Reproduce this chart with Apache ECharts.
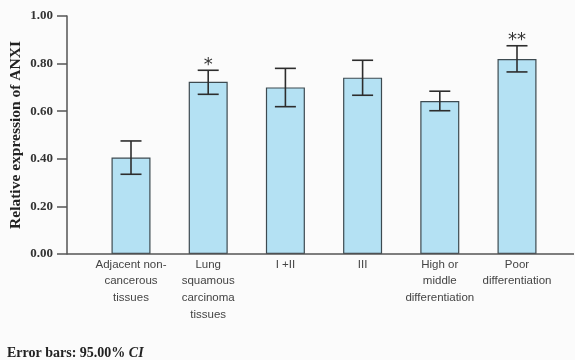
<!DOCTYPE html>
<html><head><meta charset="utf-8">
<script src="https://cdn.jsdelivr.net/npm/echarts@6/dist/echarts.min.js"></script>
<style>html,body{margin:0;padding:0;background:#fff}#c{width:575px;height:360px}</style>
</head><body><div id="c"></div>
<script>
var categories = ["Adjacent non-\ncancerous\ntissues", "Lung\nsquamous\ncarcinoma\ntissues", "I +II", "III", "High or\nmiddle\ndifferentiation", "Poor\ndifferentiation"];
var means = [0.405, 0.724, 0.700, 0.741, 0.643, 0.819];
var ciLow = [0.335, 0.671, 0.619, 0.667, 0.602, 0.765];
var ciHigh = [0.475, 0.772, 0.780, 0.814, 0.684, 0.875];
var marks = ["", "*", "", "", "", "**"];
var yTicks = [0, 0.2, 0.4, 0.6, 0.8, 1.0];

var chart = echarts.init(document.getElementById('c'), null, {renderer: 'canvas'});
var errData = categories.map(function (c, i) { return [i, ciLow[i], ciHigh[i], marks[i]]; });
chart.setOption({
  backgroundColor: '#fbfbfb',
  animation: false,
  grid: {left: 92.4, right: 19.4, top: 16, bottom: 106, containLabel: false, outerBoundsMode: 'none'},
  xAxis: {
    type: 'category', data: categories, boundaryGap: true,
    axisLine: {show: false}, axisTick: {show: false},
    axisLabel: {interval: 0, color: '#444', fontFamily: 'Liberation Sans, Arial, sans-serif', fontSize: 11.5, lineHeight: 16.7, margin: 2}
  },
  yAxis: {
    type: 'value', min: 0, max: 1, interval: 0.2, offset: 25.4,
    name: 'Relative expression of ANXI', nameLocation: 'middle', nameGap: 43, nameRotate: 90, nameMoveOverlap: false,
    nameTextStyle: {fontFamily: 'Liberation Serif, Times New Roman, serif', fontWeight: 'bold', fontSize: 15.5, color: '#222'},
    axisLine: {show: true, lineStyle: {color: '#555', width: 1.5}},
    axisTick: {show: true, length: 10, lineStyle: {color: '#555', width: 1.5}},
    splitLine: {show: false},
    axisLabel: {formatter: function (v) { return v.toFixed(2); }, color: '#333', fontFamily: 'Liberation Serif, Times New Roman, serif', fontWeight: 'bold', fontSize: 13, margin: 14}
  },
  graphic: [
    {type: 'line', shape: {x1: 67, y1: 254, x2: 574, y2: 254}, style: {stroke: '#555', lineWidth: 1.5}, z: 10},
    {type: 'text', left: 7, top: 346, style: {rich: {a: {fontFamily: 'Liberation Serif, serif', fontWeight: 'bold', fontSize: 14, fill: '#222'}, b: {fontFamily: 'Liberation Serif, serif', fontWeight: 'bold', fontStyle: 'italic', fontSize: 14, fill: '#222'}}, text: '{a|Error bars: 95.00% }{b|CI}'}}
  ],
  series: [
    {
      type: 'bar', data: means, barWidth: 39,
      itemStyle: {color: '#b4e1f3', borderColor: '#3d4a50', borderWidth: 1.2}
    },
    {
      type: 'custom', data: errData, z: 5,
      renderItem: function (params, api) {
        var x = api.value(0);
        var lo = api.coord([x, api.value(1)]);
        var hi = api.coord([x, api.value(2)]);
        var hw = 10.5;
        var st = {stroke: '#2d2d2d', lineWidth: 1.6};
        var children = [
          {type: 'line', shape: {x1: lo[0], y1: lo[1], x2: hi[0], y2: hi[1]}, style: st},
          {type: 'line', shape: {x1: lo[0] - hw, y1: lo[1], x2: lo[0] + hw, y2: lo[1]}, style: st},
          {type: 'line', shape: {x1: hi[0] - hw, y1: hi[1], x2: hi[0] + hw, y2: hi[1]}, style: st}
        ];
        var m = marks[params.dataIndex];
        if (m) {
          children.push({type: 'text', x: hi[0], y: hi[1] + 4, style: {text: m, textAlign: 'center', textVerticalAlign: 'bottom', fontFamily: 'DejaVu Sans, sans-serif', fontSize: 18, fill: '#333'}});
        }
        return {type: 'group', children: children};
      }
    }
  ]
});
</script></body></html>
